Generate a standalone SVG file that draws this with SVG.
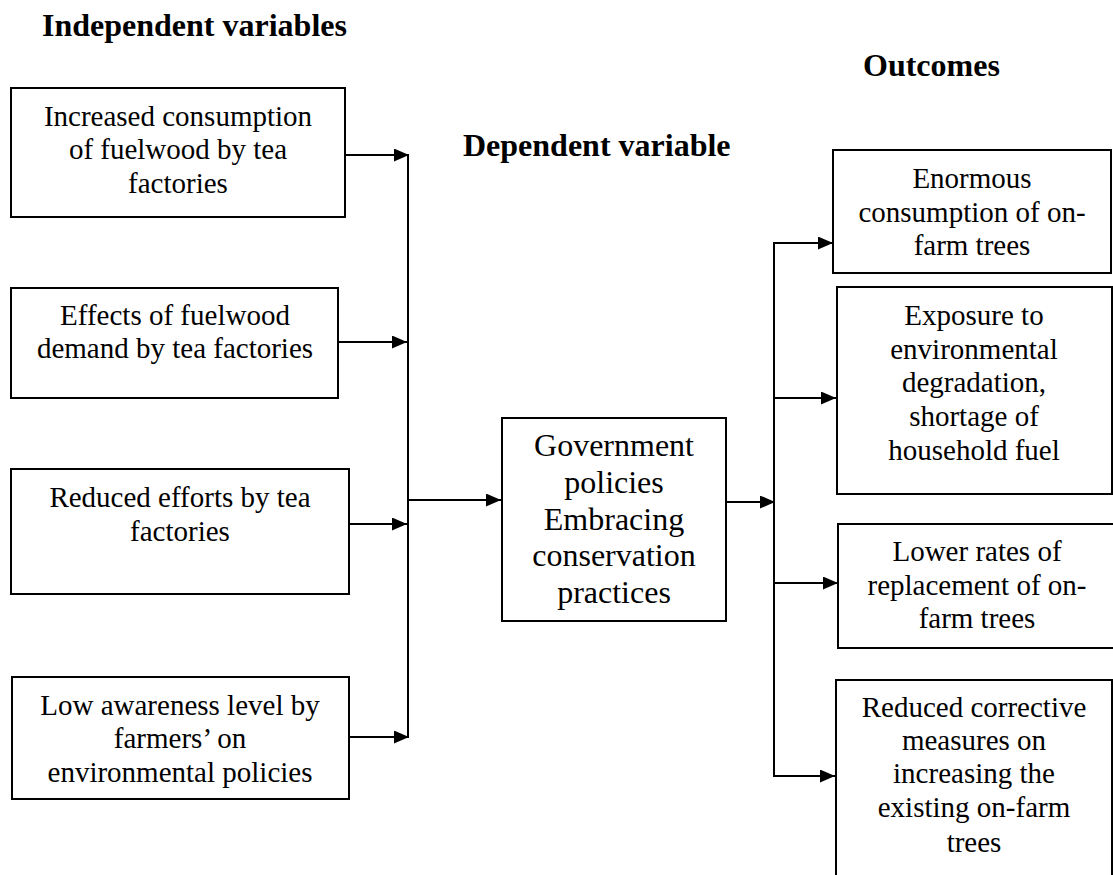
<svg xmlns="http://www.w3.org/2000/svg" width="1113" height="875" viewBox="0 0 1113 875">
<style>
text{font-family:"Liberation Serif","Times New Roman",serif;fill:#000}
.t{font-size:29px;text-anchor:middle;font-weight:normal}
.tc{font-size:32px;text-anchor:middle;font-weight:normal}
.h{font-size:32px;font-weight:bold}
.box{fill:#fff;stroke:#000;stroke-width:2}
.ln{stroke:#000;stroke-width:2;fill:none}
</style>
<defs>
<marker id="arr" markerUnits="userSpaceOnUse" markerWidth="15" markerHeight="13" refX="15" refY="6.5" orient="auto">
<path d="M0,0 L15,6.5 L0,13 z" fill="#000"/>
</marker>
</defs>
<rect width="1113" height="875" fill="#fff"/>

<g id="headings">
<text class="h" x="42" y="36">Independent variables</text>
<text class="h" x="463" y="156">Dependent variable</text>
<text class="h" x="863" y="76">Outcomes</text>
</g>

<g id="iv1">
<rect class="box" x="11" y="88" width="334" height="129"/>
<text class="t" x="178" y="126">Increased consumption</text>
<text class="t" x="178" y="159">of fuelwood by tea</text>
<text class="t" x="178" y="193">factories</text>
</g>
<g id="iv2">
<rect class="box" x="11" y="288" width="327" height="110"/>
<text class="t" x="175" y="325">Effects of fuelwood</text>
<text class="t" x="175" y="358">demand by tea factories</text>
</g>
<g id="iv3">
<rect class="box" x="11" y="469" width="338" height="125"/>
<text class="t" x="180" y="507">Reduced efforts by tea</text>
<text class="t" x="180" y="541">factories</text>
</g>
<g id="iv4">
<rect class="box" x="12" y="677" width="337" height="122"/>
<text class="t" x="180" y="715">Low awareness level by</text>
<text class="t" x="180" y="748">farmers’ on</text>
<text class="t" x="180" y="782">environmental policies</text>
</g>

<g id="dv">
<rect class="box" x="502" y="418" width="224" height="203"/>
<text class="tc" x="614" y="456">Government</text>
<text class="tc" x="614" y="493">policies</text>
<text class="tc" x="614" y="530">Embracing</text>
<text class="tc" x="614" y="566">conservation</text>
<text class="tc" x="614" y="603">practices</text>
</g>

<g id="out1">
<rect class="box" x="833" y="150" width="278" height="123"/>
<text class="t" x="972" y="188">Enormous</text>
<text class="t" x="972" y="222">consumption of on-</text>
<text class="t" x="972" y="255">farm trees</text>
</g>
<g id="out2">
<rect class="box" x="837" y="287" width="275" height="207"/>
<text class="t" x="974" y="325">Exposure to</text>
<text class="t" x="974" y="359">environmental</text>
<text class="t" x="974" y="392">degradation,</text>
<text class="t" x="974" y="426">shortage of</text>
<text class="t" x="974" y="460">household fuel</text>
</g>
<g id="out3">
<rect class="box" x="838" y="524" width="277" height="124"/>
<text class="t" x="977" y="561">Lower rates of</text>
<text class="t" x="977" y="595">replacement of on-</text>
<text class="t" x="977" y="628">farm trees</text>
</g>
<g id="out4">
<rect class="box" x="836" y="680" width="276" height="205"/>
<text class="t" x="974" y="717">Reduced corrective</text>
<text class="t" x="974" y="750">measures on</text>
<text class="t" x="974" y="783">increasing the</text>
<text class="t" x="974" y="817">existing on-farm</text>
<text class="t" x="974" y="852">trees</text>
</g>

<g id="connectors">
<line class="ln" x1="408" y1="155" x2="408" y2="737"/>
<line class="ln" x1="345" y1="155" x2="409" y2="155" marker-end="url(#arr)"/>
<line class="ln" x1="338" y1="342" x2="407" y2="342" marker-end="url(#arr)"/>
<line class="ln" x1="349" y1="524" x2="407" y2="524" marker-end="url(#arr)"/>
<line class="ln" x1="349" y1="737" x2="409" y2="737" marker-end="url(#arr)"/>
<line class="ln" x1="408" y1="500" x2="501" y2="500" marker-end="url(#arr)"/>
<line class="ln" x1="726" y1="502" x2="775" y2="502" marker-end="url(#arr)"/>
<line class="ln" x1="774" y1="243" x2="774" y2="776"/>
<line class="ln" x1="773" y1="243" x2="833" y2="243" marker-end="url(#arr)"/>
<line class="ln" x1="774" y1="398" x2="836" y2="398" marker-end="url(#arr)"/>
<line class="ln" x1="774" y1="583" x2="838" y2="583" marker-end="url(#arr)"/>
<line class="ln" x1="773" y1="776" x2="835" y2="776" marker-end="url(#arr)"/>
</g>
</svg>
